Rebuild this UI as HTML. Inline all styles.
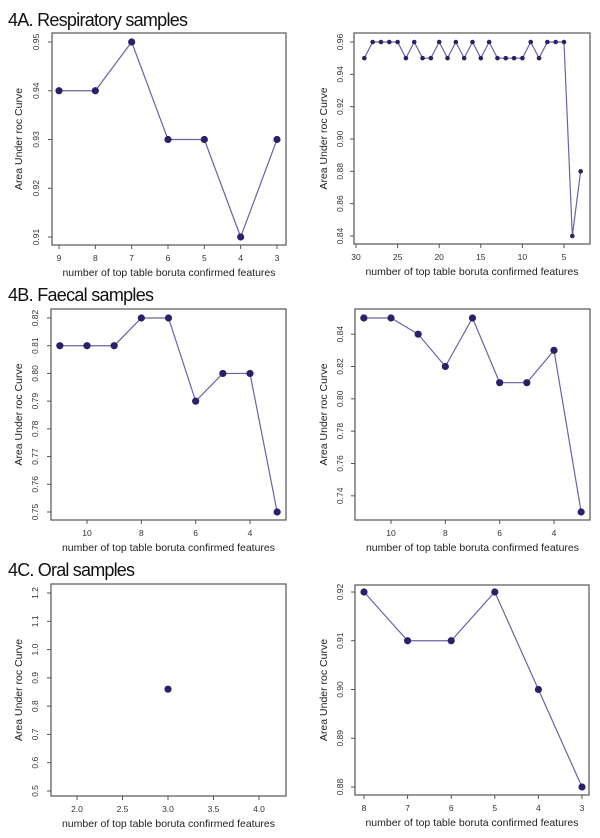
<!DOCTYPE html>
<html><head><meta charset="utf-8"><style>
html,body{margin:0;padding:0;background:#fff;}
svg{display:block;font-family:"Liberation Sans",sans-serif;}
</style></head><body>
<svg id="fig" width="600" height="838" viewBox="0 0 600 838">
<text x="8" y="26" font-size="18" fill="#111" textLength="180">4A. Respiratory samples</text>
<text x="8" y="301" font-size="18" fill="#111" textLength="146">4B. Faecal samples</text>
<text x="8" y="576" font-size="18" fill="#111" textLength="127">4C. Oral samples</text>
</svg>
<script>
// ---- data ----
const respA_x = [9,8,7,6,5,4,3];
const respA_y = [0.94,0.94,0.95,0.93,0.93,0.91,0.93];
const respA_xticks = [9,8,7,6,5,4,3];
const respA_yticks = ["0.91","0.92","0.93","0.94","0.95"];

const respB_x = [29,28,27,26,25,24,23,22,21,20,19,18,17,16,15,14,13,12,11,10,9,8,7,6,5,4,3];
const respB_y = [0.95,0.96,0.96,0.96,0.96,0.95,0.96,0.95,0.95,0.96,0.95,0.96,0.95,0.96,0.95,0.96,0.95,0.95,0.95,0.95,0.96,0.95,0.96,0.96,0.96,0.84,0.88];
const respB_xticks = [30,25,20,15,10,5];
const respB_yticks = ["0.84","0.86","0.88","0.90","0.92","0.94","0.96"];

const faecA_x = [11,10,9,8,7,6,5,4,3];
const faecA_y = [0.81,0.81,0.81,0.82,0.82,0.79,0.80,0.80,0.75];
const faecA_xticks = [10,8,6,4];
const faecA_yticks = ["0.75","0.76","0.77","0.78","0.79","0.80","0.81","0.82"];

const faecB_x = [11,10,9,8,7,6,5,4,3];
const faecB_y = [0.85,0.85,0.84,0.82,0.85,0.81,0.81,0.83,0.73];
const faecB_xticks = [10,8,6,4];
const faecB_yticks = ["0.74","0.76","0.78","0.80","0.82","0.84"];

const oralA_x = [3];
const oralA_y = [0.86];
const oralA_xticks = ["2.0","2.5","3.0","3.5","4.0"];
const oralA_yticks = ["0.5","0.6","0.7","0.8","0.9","1.0","1.1","1.2"];

const oralB_x = [8,7,6,5,4,3];
const oralB_y = [0.92,0.91,0.91,0.92,0.90,0.88];
const oralB_xticks = [8,7,6,5,4,3];
const oralB_yticks = ["0.88","0.89","0.90","0.91","0.92"];

// ---- layout ----
const NS = "http://www.w3.org/2000/svg";
const svg = document.getElementById('fig');
function mk(tag, attrs, parent){
  const e = document.createElementNS(NS, tag);
  for (const k in attrs) e.setAttribute(k, attrs[k]);
  (parent||svg).appendChild(e);
  return e;
}
function linScale(d0,d1,r0,r1){ return v => r0 + (v-d0)/(d1-d0)*(r1-r0); }

function panel(name, box, xd, xr, yd, yr, xs, ys, xticks, yticks, r, ytitleX, ytickX){
  const g = mk('g', {});
  
  
  const X = linScale(xd[0], xd[1], xr[0], xr[1]);
  const Y = linScale(yd[0], yd[1], yr[0], yr[1]);
  const frame = mk('rect', {x:box[0], y:box[1], width:box[2]-box[0], height:box[3]-box[1], fill:'none', stroke:'#555', 'stroke-width':1.2}, g);
  
  
  // x ticks
  xticks.forEach(t => {
    const v = parseFloat(t), px = X(v);
    const tk = mk('line', {x1:px, x2:px, y1:box[3], y2:box[3]+4, stroke:'#555', 'stroke-width':1}, g);
    
    
    const tl = mk('text', {x:px, y:box[3]+16, 'font-size':8.5, 'text-anchor':'middle', fill:'#333'}, g);
    
    
    tl.textContent = t;
  });
  // y ticks
  yticks.forEach(t => {
    const v = parseFloat(t), py = Y(v);
    const tk = mk('line', {x1:box[0]-4, x2:box[0], y1:py, y2:py, stroke:'#555', 'stroke-width':1}, g);
    
    
    const tl = mk('text', {x:ytickX, y:py, 'font-size':8.5, 'text-anchor':'middle', fill:'#333', transform:`rotate(-90 ${ytickX} ${py})`}, g);
    
    
    tl.textContent = t;
  });
  const cy = (box[1]+box[3])/2;
  const yt = mk('text', {x:ytitleX, y:cy, 'font-size':10.5, 'text-anchor':'middle', fill:'#222', transform:`rotate(-90 ${ytitleX} ${cy})`}, g);
  
  
  yt.textContent = 'Area Under roc Curve';
  const cx = (box[0]+box[2])/2;
  const xt = mk('text', {x:cx, y:box[3]+31, 'font-size':10.5, 'text-anchor':'middle', fill:'#222'}, g);
  
  
  xt.textContent = 'number of top table boruta confirmed features';
  // series
  if (xs.length > 1){
    const pts = xs.map((x,i) => X(x)+','+Y(ys[i])).join(' ');
    const pl = mk('polyline', {points:pts, fill:'none', stroke:'#6e62a0', 'stroke-width':1.2}, g);
    
    
  }
  xs.forEach((x,i) => {
    const c = mk('circle', {cx:X(x), cy:Y(ys[i]), r:r, fill:'#2e1f66'}, g);
    
    
  });
}

panel('chart-respiratory-left', [52,33,286,245], [9,3], [59,277], [0.91,0.95], [237,42], respA_x, respA_y, respA_xticks, respA_yticks, 3.6, 22, 39);
panel('chart-respiratory-right', [354,33,590,244], [30,5], [356,564], [0.84,0.96], [236,42], respB_x, respB_y, respB_xticks, respB_yticks, 2.3, 327, 343);
panel('chart-faecal-left', [51,309,286,520], [10,4], [87,250], [0.75,0.82], [512,318], faecA_x, faecA_y, faecA_xticks, faecA_yticks, 3.6, 22, 38);
panel('chart-faecal-right', [355,309,590,520], [10,4], [391,554], [0.73,0.85], [512,318], faecB_x, faecB_y, faecB_xticks, faecB_yticks, 3.6, 327, 343);
panel('chart-oral-left', [51,584,286,796], [2,4], [77,259], [0.5,1.2], [791,593], oralA_x, oralA_y, oralA_xticks, oralA_yticks, 3.6, 22, 38);
panel('chart-oral-right', [355,585,589,795], [8,3], [364,582], [0.88,0.92], [787,592], oralB_x, oralB_y, oralB_xticks, oralB_yticks, 3.6, 327, 343);
</script>
</body></html>
